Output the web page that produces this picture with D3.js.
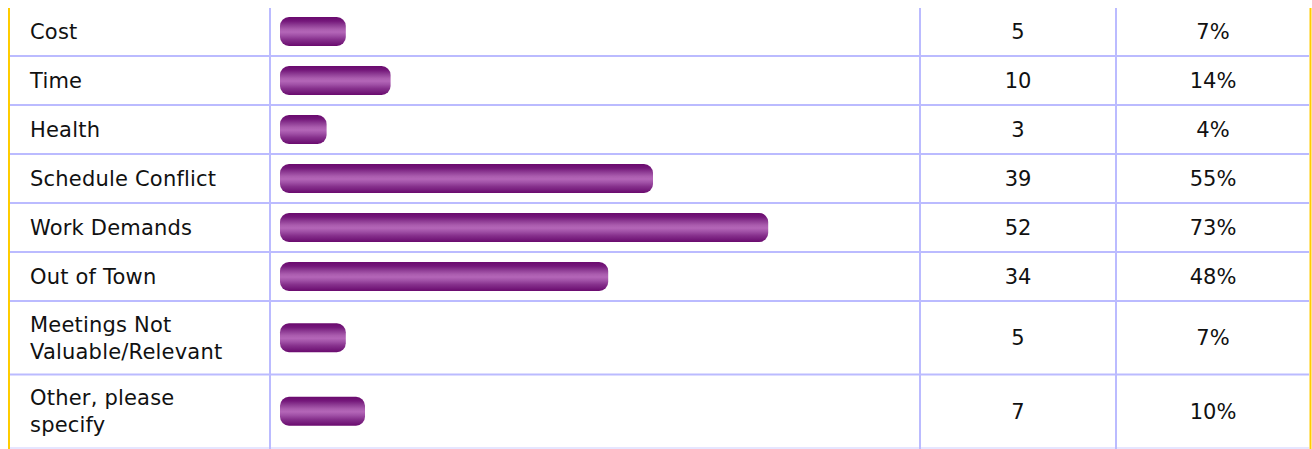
<!DOCTYPE html>
<html>
<head>
<meta charset="utf-8">
<script src="https://cdn.jsdelivr.net/npm/d3@7"></script>
<style>
  body { margin: 0; background: #fff; }
  text { font-family: Verdana, "DejaVu Sans", sans-serif; fill: #111; }
</style>
</head>
<body>
<div id="chart"></div>
<script>
// data
var categories = [
    ["Cost"],
    ["Time"],
    ["Health"],
    ["Schedule Conflict"],
    ["Work Demands"],
    ["Out of Town"],
    ["Meetings Not", "Valuable/Relevant"],
    ["Other, please", "specify"]
]
var counts = [5, 10, 3, 39, 52, 34, 5, 7]
var percents = [7, 14, 4, 55, 73, 48, 7, 10]

var W = 1312, H = 449
var fontSize = "21px"
var svg = d3.select("#chart")
  .append("svg")
  .attr("width", W)
  .attr("height", H)

// gradient for the glossy bars
var grad = svg.append("defs").append("linearGradient")
    .attr("id", "barGrad")
    .attr("x1", 0).attr("y1", 0).attr("x2", 0).attr("y2", 1)
var stops = [
    [0, "#6a0a6e"], [0.14, "#74177a"], [0.28, "#8e3c94"], [0.42, "#aa5cae"],
    [0.52, "#b466b8"], [0.64, "#a050a6"], [0.78, "#86308c"], [0.9, "#761c7c"], [1, "#6a0a6e"]
]
stops.forEach(function(s){
    grad.append("stop").attr("offset", s[0]).attr("stop-color", s[1])
})

// row layout: single line rows vs two line rows
var top0 = 7
var rows = []
var yy = top0
categories.forEach(function(c){
    var h = c.length > 1 ? 73.5 : 49
    rows.push({y: yy, h: h})
    yy += h
})

var x = d3.scaleLinear()
    .domain([0, 100])
    .range([0, 640])

var lineColor = "#bbbbff"
var colDiv = [270, 920, 1116]

// row separators
rows.forEach(function(r, i){
    svg.append("line")
        .attr("x1", 10).attr("x2", 1309)
        .attr("y1", r.y + r.h).attr("y2", r.y + r.h)
        .attr("stroke", i == rows.length - 1 ? "#e6e6ff" : lineColor)
        .attr("stroke-width", 2)
})

// column dividers
colDiv.forEach(function(cx){
    svg.append("line")
        .attr("x1", cx).attr("x2", cx)
        .attr("y1", 8).attr("y2", H)
        .attr("stroke", lineColor)
        .attr("stroke-width", 2)
})

// yellow side borders
;[9, 1310.5].forEach(function(bx){
    svg.append("line")
        .attr("x1", bx).attr("x2", bx)
        .attr("y1", 8).attr("y2", H)
        .attr("stroke", "#ffcc00")
        .attr("stroke-width", 2)
})

var g = svg.selectAll("g.row")
    .data(categories)
    .enter()
    .append("g")
    .attr("class", "row")
    .attr("transform", function(d, i){
        return "translate(0," + (rows[i].y + rows[i].h / 2) + ")"
    })

// labels
g.each(function(d){
    var t = d3.select(this).append("text")
        .attr("x", 30)
        .style("font-size", fontSize)
        .style("letter-spacing", "0.2px")
    d.forEach(function(line, j){
        t.append("tspan")
            .attr("x", 30)
            .attr("y", (j - (d.length - 1) / 2) * 27)
            .attr("dy", "0.36em")
            .text(line)
    })
})

// bars
g.append("rect")
    .attr("x", 280)
    .attr("y", -14.5)
    .attr("height", 29)
    .attr("width", function(d, i){ return x(percents[i]) + 21 })
    .attr("rx", 9)
    .attr("ry", 9)
    .attr("fill", "url(#barGrad)")

// counts
g.append("text")
    .attr("x", (colDiv[1] + colDiv[2]) / 2)
    .attr("dy", "0.36em")
    .attr("text-anchor", "middle")
    .style("font-size", fontSize)
    .text(function(d, i){ return counts[i] })

// percents
g.append("text")
    .attr("x", (colDiv[2] + 1310) / 2)
    .attr("dy", "0.36em")
    .attr("text-anchor", "middle")
    .style("font-size", fontSize)
    .text(function(d, i){ return percents[i] + "%" })
</script>
</body>
</html>
